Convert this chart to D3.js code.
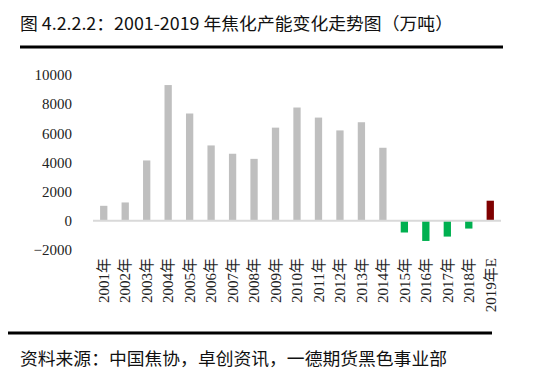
<!DOCTYPE html>
<html>
<head>
<meta charset="utf-8">
<script src="https://cdn.jsdelivr.net/npm/d3@7"></script>
<style>
  body { margin: 0; background: #fff; }
  svg { display: block; }
</style>
</head>
<body>
<div id="chart"></div>
<script>
// years and capacity change (万吨)
const years = ['2001年','2002年','2003年','2004年','2005年','2006年','2007年','2008年','2009年','2010年',
  '2011年','2012年','2013年','2014年','2015年','2016年','2017年','2018年','2019年E']
const values = [1030, 1260, 4140, 9310, 7360, 5170, 4600, 4250, 6390, 7770,
  7080, 6200, 6760, 5010, -800, -1380, -1080, -530, 1380]
const yTicks = [-2000, 0, 2000, 4000, 6000, 8000, 10000]

const title = '图 4.2.2.2：2001-2019 年焦化产能变化走势图（万吨）'
const source = '资料来源：中国焦协，卓创资讯，一德期货黑色事业部'

const width = 536, height = 379
const cjk = '"Noto Sans CJK SC", "Noto Sans", sans-serif'
const serif = '"Liberation Serif", "Noto Sans CJK SC", serif'

let svg = d3.select('#chart').append('svg')
  .attr('width', width)
  .attr('height', height)

svg.append('rect').attr('width', width).attr('height', height).attr('fill', '#fff')

// header
svg.append('text')
  .attr('x', 20).attr('y', 30)
  .attr('textLength', 433)
  .attr('lengthAdjust', 'spacingAndGlyphs')
  .style('font-family', cjk).style('font-size', '17px').attr('fill', '#111')
  .text(title)

svg.append('line')
  .attr('x1', 20).attr('x2', 503).attr('y1', 47).attr('y2', 47)
  .attr('stroke', '#000').attr('stroke-width', 3)

let xScale = d3.scaleBand()
  .domain(years)
  .range([93, 501])
  .paddingInner(0.66)
  .paddingOuter(0.33)

let yScale = d3.scaleLinear()
  .domain([-2000, 10000])
  .range([250, 75])

// y axis: labels only
let yaxis = svg.append('g')
  .attr('transform', 'translate(76,0)')
  .call(d3.axisLeft(yScale).tickValues(yTicks).tickSize(0).tickPadding(4).tickFormat(d => d))
yaxis.select('.domain').remove()
yaxis.selectAll('text')
  .style('font-family', serif).style('font-size', '15px').attr('fill', '#222')
  .text(d => d < 0 ? '\u2212' + Math.abs(d) : d)

const colorOf = (d, i) => years[i].includes('E') ? '#7f0000' : (d < 0 ? '#00b050' : '#bfbfbf')

svg.append('g').selectAll('rect')
  .data(values)
  .join('rect')
  .attr('x', (d, i) => xScale(years[i]))
  .attr('width', xScale.bandwidth())
  .attr('y', d => yScale(Math.max(0, d)))
  .attr('height', d => Math.abs(yScale(d) - yScale(0)))
  .attr('fill', colorOf)

// zero line
svg.append('line')
  .attr('x1', 93).attr('x2', 501)
  .attr('y1', yScale(0)).attr('y2', yScale(0))
  .attr('stroke', '#d9d9d9').attr('stroke-width', 2)

// x labels, rotated
svg.append('g').selectAll('text')
  .data(years)
  .join('text')
  .attr('transform', d => `translate(${xScale(d) + xScale.bandwidth() / 2},258) rotate(-90)`)
  .attr('text-anchor', 'end')
  .attr('dy', '0.35em')
  .style('font-family', serif).style('font-size', '15px').attr('fill', '#222')
  .text(d => d)

// footer
svg.append('line')
  .attr('x1', 8).attr('x2', 492).attr('y1', 333).attr('y2', 333)
  .attr('stroke', '#000').attr('stroke-width', 3)

svg.append('text')
  .attr('x', 20).attr('y', 365)
  .attr('textLength', 427)
  .attr('lengthAdjust', 'spacingAndGlyphs')
  .style('font-family', cjk).style('font-size', '17.5px').attr('fill', '#111')
  .text(source)
</script>
</body>
</html>
